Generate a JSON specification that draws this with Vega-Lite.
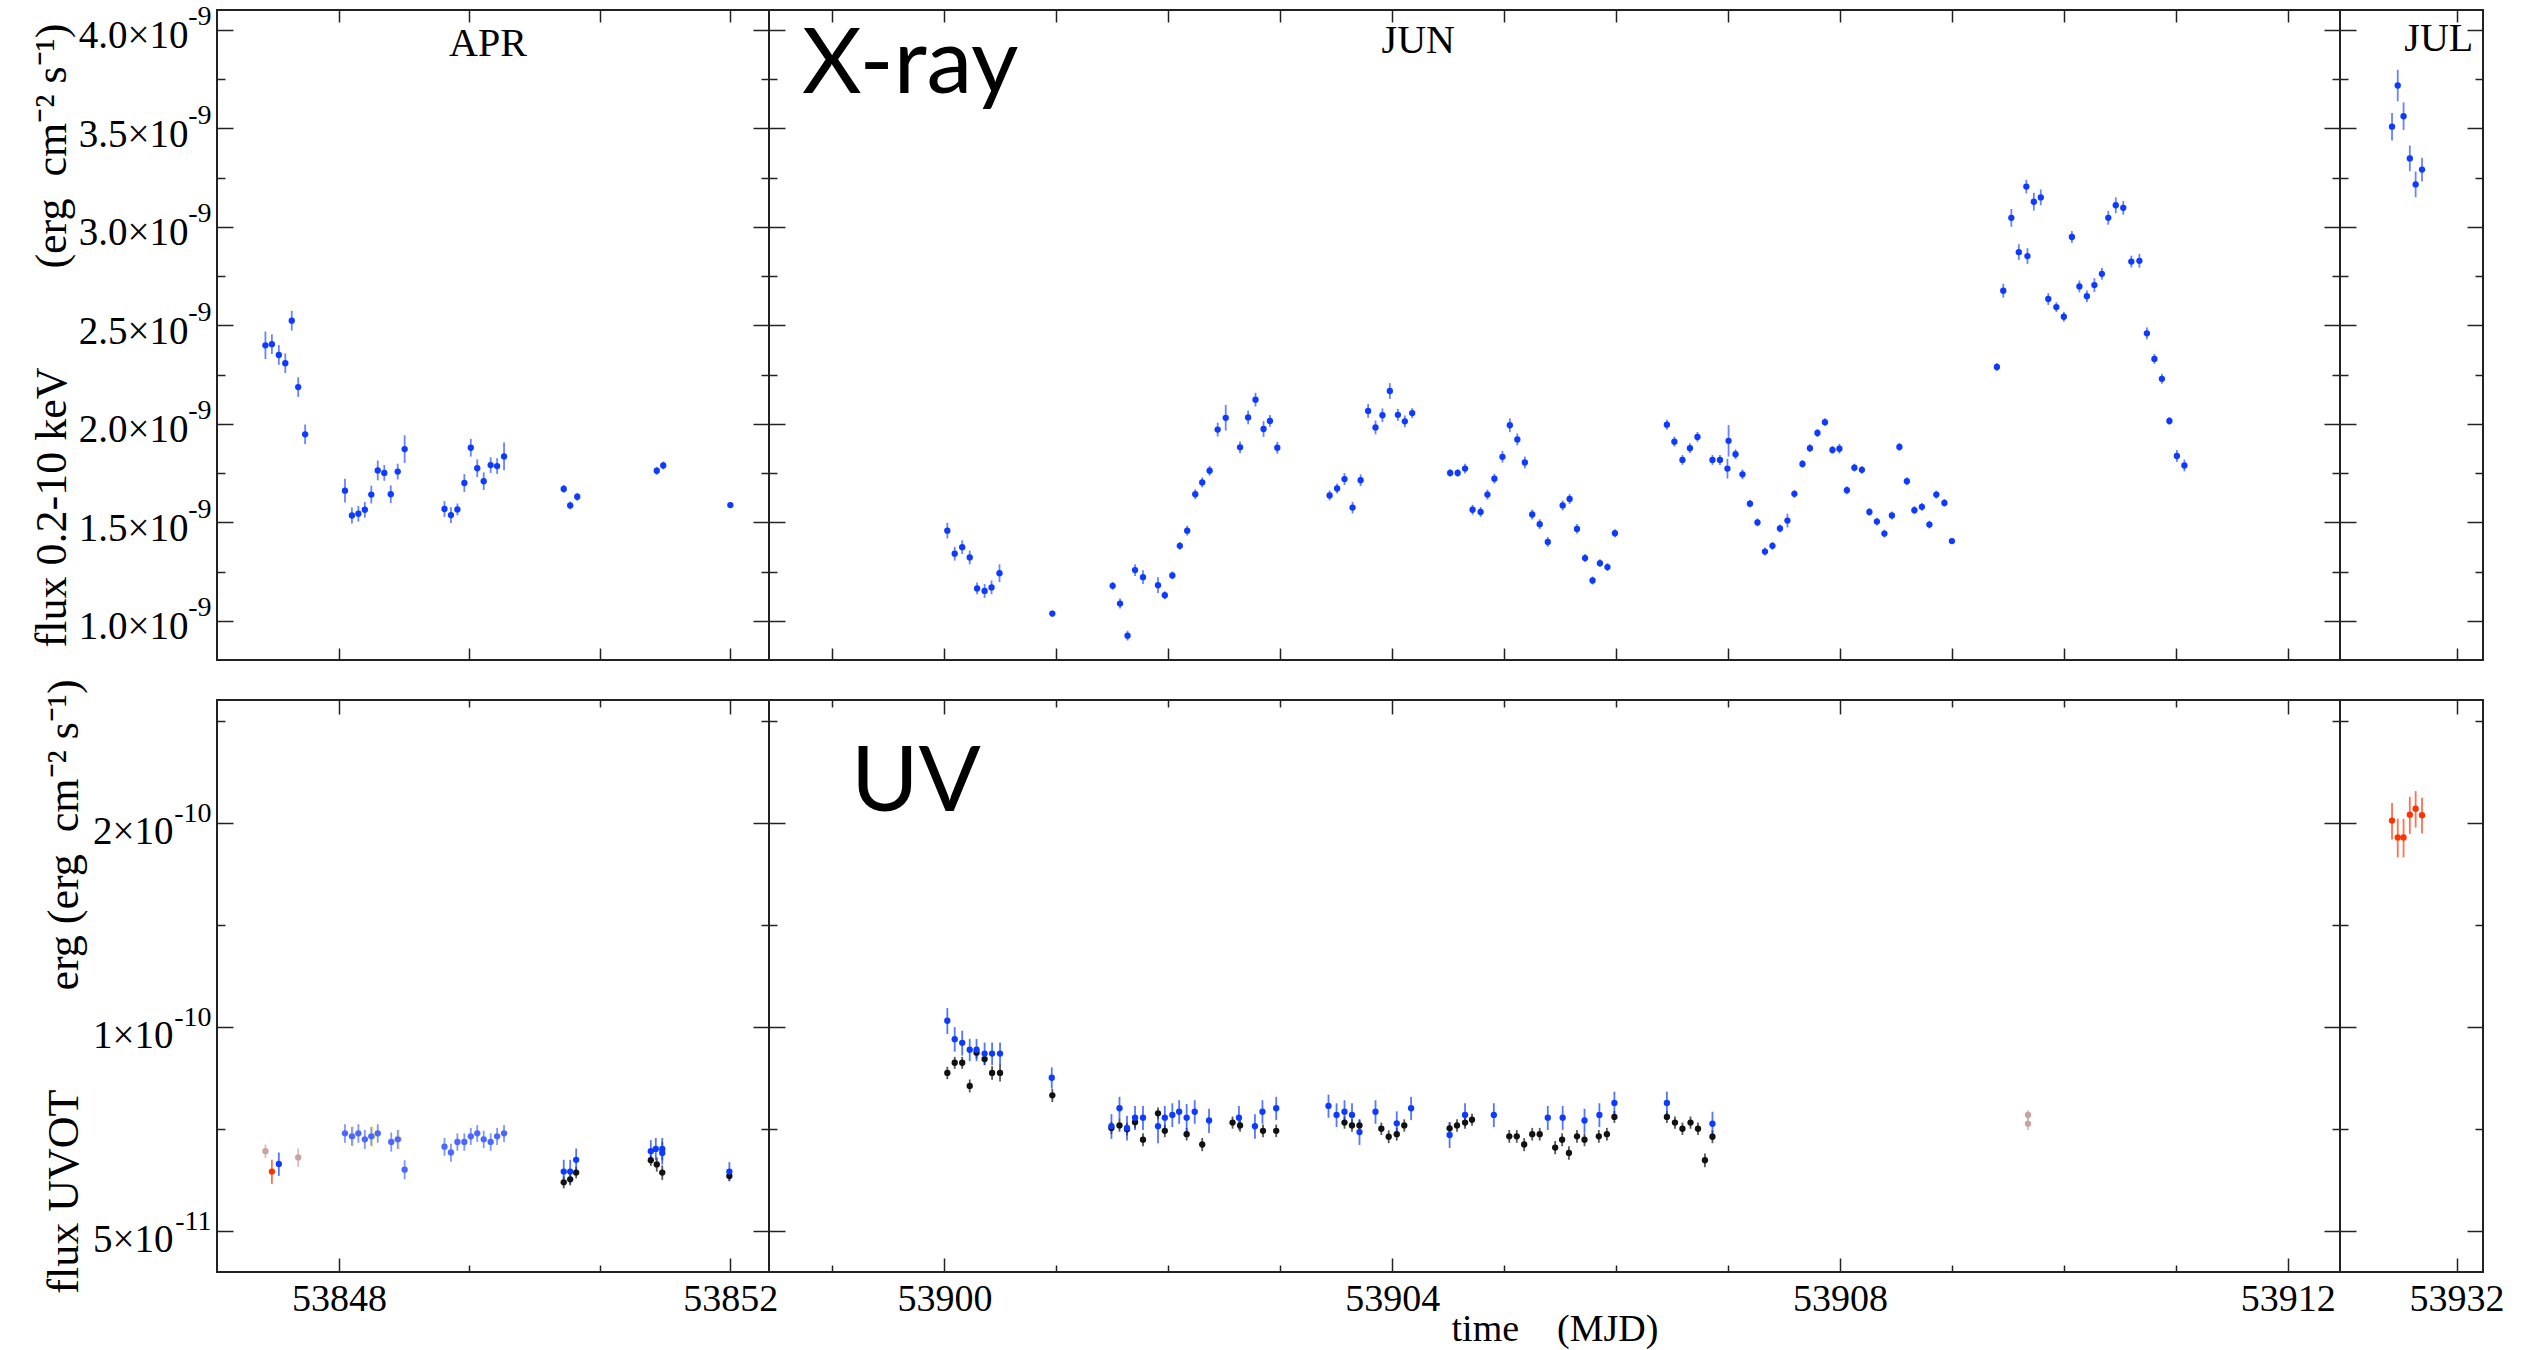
{
"$schema": "https://vega.github.io/schema/vega-lite/v6.json",
"background": "white",
"padding": {"left": 29, "top": 1, "right": 5, "bottom": 0},
"columns": 3,
"align": "each",
"bounds": "flush",
"spacing": {"row": 40, "column": 0},
"config": {
 "view": {"stroke": "#222", "strokeWidth": 2},
 "axis": {"domain": false, "grid": false, "tickColor": "#222", "tickWidth": 1.5, "labelFont": "Liberation Serif", "labelFontSize": 39, "labelColor": "#000", "titleFont": "Liberation Serif", "titleFontSize": 44, "titleFontWeight": "normal", "titleColor": "#000", "labelFlush": false, "labelOverlap": false}
},
"datasets": {
 "xray": [
  {"p":"A","t":53847.248,"f":2.399,"e":0.07},{"p":"A","t":53847.314,"f":2.405,"e":0.05},{"p":"A","t":53847.385,"f":2.350,"e":0.05},{"p":"A","t":53847.451,"f":2.308,"e":0.05},{"p":"A","t":53847.517,"f":2.524,"e":0.05},{"p":"A","t":53847.583,"f":2.187,"e":0.05},{"p":"A","t":53847.654,"f":1.947,"e":0.05},
  {"p":"A","t":53848.061,"f":1.661,"e":0.06},{"p":"A","t":53848.132,"f":1.535,"e":0.04},{"p":"A","t":53848.198,"f":1.544,"e":0.04},{"p":"A","t":53848.264,"f":1.564,"e":0.04},{"p":"A","t":53848.330,"f":1.641,"e":0.045},{"p":"A","t":53848.396,"f":1.764,"e":0.05},{"p":"A","t":53848.463,"f":1.751,"e":0.04},{"p":"A","t":53848.529,"f":1.643,"e":0.045},{"p":"A","t":53848.600,"f":1.758,"e":0.04},{"p":"A","t":53848.671,"f":1.872,"e":0.07},
  {"p":"A","t":53849.078,"f":1.568,"e":0.04},{"p":"A","t":53849.144,"f":1.537,"e":0.04},{"p":"A","t":53849.210,"f":1.566,"e":0.03},{"p":"A","t":53849.281,"f":1.700,"e":0.045},{"p":"A","t":53849.347,"f":1.879,"e":0.045},{"p":"A","t":53849.413,"f":1.775,"e":0.045},{"p":"A","t":53849.479,"f":1.709,"e":0.045},{"p":"A","t":53849.550,"f":1.791,"e":0.04},{"p":"A","t":53849.616,"f":1.786,"e":0.04},{"p":"A","t":53849.687,"f":1.835,"e":0.07},
  {"p":"A","t":53850.297,"f":1.670,"e":0.02},{"p":"A","t":53850.363,"f":1.586,"e":0.02},{"p":"A","t":53850.435,"f":1.630,"e":0.02},{"p":"A","t":53851.248,"f":1.762,"e":0.02},{"p":"A","t":53851.314,"f":1.789,"e":0.02},{"p":"A","t":53852.000,"f":1.588,"e":0.015},
  {"p":"J","t":53900.026,"f":1.458,"e":0.04},{"p":"J","t":53900.092,"f":1.341,"e":0.035},{"p":"J","t":53900.159,"f":1.374,"e":0.035},{"p":"J","t":53900.226,"f":1.322,"e":0.035},{"p":"J","t":53900.292,"f":1.165,"e":0.03},{"p":"J","t":53900.359,"f":1.152,"e":0.035},{"p":"J","t":53900.421,"f":1.170,"e":0.035},{"p":"J","t":53900.492,"f":1.242,"e":0.045},
  {"p":"J","t":53900.964,"f":1.037,"e":0.015},{"p":"J","t":53901.503,"f":1.178,"e":0.02},{"p":"J","t":53901.569,"f":1.088,"e":0.025},{"p":"J","t":53901.636,"f":0.925,"e":0.025},{"p":"J","t":53901.703,"f":1.258,"e":0.03},{"p":"J","t":53901.774,"f":1.222,"e":0.035},{"p":"J","t":53901.908,"f":1.181,"e":0.04},{"p":"J","t":53901.969,"f":1.130,"e":0.02},
  {"p":"J","t":53902.036,"f":1.231,"e":0.02},{"p":"J","t":53902.103,"f":1.381,"e":0.02},{"p":"J","t":53902.169,"f":1.458,"e":0.025},{"p":"J","t":53902.241,"f":1.643,"e":0.025},{"p":"J","t":53902.303,"f":1.703,"e":0.025},{"p":"J","t":53902.369,"f":1.762,"e":0.025},{"p":"J","t":53902.441,"f":1.971,"e":0.035},{"p":"J","t":53902.513,"f":2.031,"e":0.065},
  {"p":"J","t":53902.641,"f":1.881,"e":0.03},{"p":"J","t":53902.713,"f":2.033,"e":0.035},{"p":"J","t":53902.779,"f":2.123,"e":0.035},{"p":"J","t":53902.851,"f":1.974,"e":0.04},{"p":"J","t":53902.908,"f":2.015,"e":0.03},{"p":"J","t":53902.974,"f":1.879,"e":0.03},
  {"p":"J","t":53903.441,"f":1.637,"e":0.025},{"p":"J","t":53903.508,"f":1.672,"e":0.025},{"p":"J","t":53903.574,"f":1.720,"e":0.03},{"p":"J","t":53903.646,"f":1.575,"e":0.03},{"p":"J","t":53903.718,"f":1.714,"e":0.03},{"p":"J","t":53903.785,"f":2.066,"e":0.035},{"p":"J","t":53903.851,"f":1.982,"e":0.035},{"p":"J","t":53903.913,"f":2.044,"e":0.035},{"p":"J","t":53903.979,"f":2.167,"e":0.04},{"p":"J","t":53904.051,"f":2.046,"e":0.03},{"p":"J","t":53904.113,"f":2.013,"e":0.03},{"p":"J","t":53904.179,"f":2.055,"e":0.025},
  {"p":"J","t":53904.518,"f":1.751,"e":0.02},{"p":"J","t":53904.585,"f":1.751,"e":0.02},{"p":"J","t":53904.651,"f":1.773,"e":0.025},{"p":"J","t":53904.718,"f":1.564,"e":0.025},{"p":"J","t":53904.790,"f":1.553,"e":0.025},{"p":"J","t":53904.851,"f":1.641,"e":0.025},{"p":"J","t":53904.913,"f":1.722,"e":0.025},{"p":"J","t":53904.985,"f":1.833,"e":0.03},{"p":"J","t":53905.051,"f":1.993,"e":0.035},{"p":"J","t":53905.118,"f":1.921,"e":0.03},{"p":"J","t":53905.185,"f":1.804,"e":0.03},{"p":"J","t":53905.251,"f":1.540,"e":0.025},{"p":"J","t":53905.318,"f":1.491,"e":0.025},{"p":"J","t":53905.390,"f":1.401,"e":0.025},
  {"p":"J","t":53905.523,"f":1.586,"e":0.025},{"p":"J","t":53905.585,"f":1.619,"e":0.025},{"p":"J","t":53905.651,"f":1.467,"e":0.025},{"p":"J","t":53905.723,"f":1.319,"e":0.02},{"p":"J","t":53905.790,"f":1.205,"e":0.02},{"p":"J","t":53905.856,"f":1.293,"e":0.02},{"p":"J","t":53905.923,"f":1.273,"e":0.02},{"p":"J","t":53905.990,"f":1.445,"e":0.02},
  {"p":"J","t":53906.454,"f":1.996,"e":0.025},{"p":"J","t":53906.521,"f":1.910,"e":0.025},{"p":"J","t":53906.593,"f":1.817,"e":0.025},{"p":"J","t":53906.660,"f":1.877,"e":0.025},{"p":"J","t":53906.727,"f":1.934,"e":0.025},{"p":"J","t":53906.861,"f":1.817,"e":0.025},{"p":"J","t":53906.928,"f":1.817,"e":0.025},{"p":"J","t":53906.995,"f":1.773,"e":0.05},{"p":"J","t":53907.005,"f":1.914,"e":0.08},{"p":"J","t":53907.067,"f":1.846,"e":0.025},{"p":"J","t":53907.129,"f":1.744,"e":0.025},
  {"p":"J","t":53907.196,"f":1.595,"e":0.02},{"p":"J","t":53907.263,"f":1.500,"e":0.02},{"p":"J","t":53907.330,"f":1.352,"e":0.02},{"p":"J","t":53907.397,"f":1.381,"e":0.02},{"p":"J","t":53907.464,"f":1.469,"e":0.02},{"p":"J","t":53907.531,"f":1.509,"e":0.035},{"p":"J","t":53907.593,"f":1.645,"e":0.02},{"p":"J","t":53907.665,"f":1.797,"e":0.02},{"p":"J","t":53907.732,"f":1.877,"e":0.02},{"p":"J","t":53907.799,"f":1.954,"e":0.02},{"p":"J","t":53907.866,"f":2.009,"e":0.02},{"p":"J","t":53907.933,"f":1.868,"e":0.02},{"p":"J","t":53907.995,"f":1.874,"e":0.025},
  {"p":"J","t":53908.062,"f":1.663,"e":0.02},{"p":"J","t":53908.129,"f":1.778,"e":0.02},{"p":"J","t":53908.196,"f":1.767,"e":0.02},{"p":"J","t":53908.263,"f":1.553,"e":0.02},{"p":"J","t":53908.330,"f":1.504,"e":0.02},{"p":"J","t":53908.397,"f":1.443,"e":0.02},{"p":"J","t":53908.464,"f":1.535,"e":0.02},{"p":"J","t":53908.531,"f":1.883,"e":0.02},{"p":"J","t":53908.598,"f":1.709,"e":0.02},{"p":"J","t":53908.665,"f":1.562,"e":0.02},{"p":"J","t":53908.732,"f":1.579,"e":0.02},{"p":"J","t":53908.799,"f":1.489,"e":0.02},{"p":"J","t":53908.861,"f":1.641,"e":0.02},{"p":"J","t":53908.933,"f":1.599,"e":0.02},{"p":"J","t":53909.000,"f":1.405,"e":0.015},
  {"p":"J","t":53909.402,"f":2.289,"e":0.02},{"p":"J","t":53909.459,"f":2.676,"e":0.035},{"p":"J","t":53909.531,"f":3.046,"e":0.045},{"p":"J","t":53909.598,"f":2.872,"e":0.04},{"p":"J","t":53909.665,"f":3.205,"e":0.035},{"p":"J","t":53909.675,"f":2.852,"e":0.04},{"p":"J","t":53909.732,"f":3.128,"e":0.045},{"p":"J","t":53909.794,"f":3.150,"e":0.04},{"p":"J","t":53909.861,"f":2.634,"e":0.03},{"p":"J","t":53909.933,"f":2.593,"e":0.025},{"p":"J","t":53910.000,"f":2.544,"e":0.025},
  {"p":"J","t":53910.072,"f":2.949,"e":0.03},{"p":"J","t":53910.139,"f":2.698,"e":0.03},{"p":"J","t":53910.206,"f":2.648,"e":0.03},{"p":"J","t":53910.273,"f":2.705,"e":0.035},{"p":"J","t":53910.340,"f":2.762,"e":0.03},{"p":"J","t":53910.397,"f":3.046,"e":0.035},{"p":"J","t":53910.464,"f":3.110,"e":0.04},{"p":"J","t":53910.531,"f":3.097,"e":0.035},{"p":"J","t":53910.603,"f":2.824,"e":0.03},{"p":"J","t":53910.675,"f":2.828,"e":0.035},
  {"p":"J","t":53910.742,"f":2.460,"e":0.03},{"p":"J","t":53910.809,"f":2.330,"e":0.025},{"p":"J","t":53910.876,"f":2.229,"e":0.025},{"p":"J","t":53910.943,"f":2.015,"e":0.02},{"p":"J","t":53911.010,"f":1.837,"e":0.03},{"p":"J","t":53911.077,"f":1.789,"e":0.03},
  {"p":"L","t":53931.423,"f":3.509,"e":0.07},{"p":"L","t":53931.474,"f":3.718,"e":0.08},{"p":"L","t":53931.526,"f":3.562,"e":0.07},{"p":"L","t":53931.582,"f":3.348,"e":0.065},{"p":"L","t":53931.634,"f":3.216,"e":0.065},{"p":"L","t":53931.691,"f":3.291,"e":0.06}
 ],
 "uv": [
  {"p":"A","s":"rosy","t":53847.248,"f":6.56,"e":0.15},{"p":"A","s":"rosy","t":53847.583,"f":6.42,"e":0.2},{"p":"J","s":"rosy","t":53909.680,"f":7.42,"e":0.12},{"p":"J","s":"rosy","t":53909.680,"f":7.20,"e":0.15},
  {"p":"A","s":"red","t":53847.314,"f":6.12,"e":0.25},
  {"p":"L","s":"red","t":53931.423,"f":20.18,"e":1.25},{"p":"L","s":"red","t":53931.474,"f":19.06,"e":1.25},{"p":"L","s":"red","t":53931.526,"f":19.06,"e":1.25},{"p":"L","s":"red","t":53931.582,"f":20.59,"e":1.3},{"p":"L","s":"red","t":53931.634,"f":21.01,"e":1.3},{"p":"L","s":"red","t":53931.691,"f":20.56,"e":1.25},
  {"p":"A","s":"yellow","t":53848.145,"f":6.90,"e":0.24},{"p":"A","s":"yellow","t":53848.343,"f":6.90,"e":0.24},{"p":"A","s":"yellow","t":53848.613,"f":6.83,"e":0.24},
  {"p":"A","s":"lb","t":53848.061,"f":6.97,"e":0.22},{"p":"A","s":"lb","t":53848.132,"f":6.90,"e":0.22},{"p":"A","s":"lb","t":53848.198,"f":6.97,"e":0.22},{"p":"A","s":"lb","t":53848.264,"f":6.83,"e":0.22},{"p":"A","s":"lb","t":53848.330,"f":6.90,"e":0.22},{"p":"A","s":"lb","t":53848.396,"f":6.97,"e":0.22},{"p":"A","s":"lb","t":53848.534,"f":6.77,"e":0.22},{"p":"A","s":"lb","t":53848.600,"f":6.83,"e":0.22},{"p":"A","s":"lb","t":53848.671,"f":6.16,"e":0.2},
  {"p":"A","s":"lb","t":53849.078,"f":6.66,"e":0.2},{"p":"A","s":"lb","t":53849.144,"f":6.53,"e":0.2},{"p":"A","s":"lb","t":53849.210,"f":6.77,"e":0.2},{"p":"A","s":"lb","t":53849.281,"f":6.77,"e":0.2},{"p":"A","s":"lb","t":53849.347,"f":6.90,"e":0.2},{"p":"A","s":"lb","t":53849.413,"f":6.97,"e":0.2},{"p":"A","s":"lb","t":53849.479,"f":6.83,"e":0.2},{"p":"A","s":"lb","t":53849.550,"f":6.77,"e":0.2},{"p":"A","s":"lb","t":53849.616,"f":6.90,"e":0.2},{"p":"A","s":"lb","t":53849.687,"f":6.97,"e":0.2},
  {"p":"A","s":"black","t":53850.297,"f":5.90,"e":0.12},{"p":"A","s":"black","t":53850.363,"f":5.96,"e":0.12},{"p":"A","s":"black","t":53850.424,"f":6.10,"e":0.12},{"p":"A","s":"black","t":53851.187,"f":6.36,"e":0.12},{"p":"A","s":"black","t":53851.248,"f":6.27,"e":0.15},{"p":"A","s":"black","t":53851.304,"f":6.10,"e":0.15},{"p":"A","s":"black","t":53851.990,"f":6.03,"e":0.1},
  {"p":"J","s":"black","t":53900.026,"f":8.56,"e":0.18},{"p":"J","s":"black","t":53900.092,"f":8.86,"e":0.18},{"p":"J","s":"black","t":53900.159,"f":8.86,"e":0.18},{"p":"J","s":"black","t":53900.226,"f":8.19,"e":0.18},{"p":"J","s":"black","t":53900.287,"f":9.17,"e":0.18},{"p":"J","s":"black","t":53900.359,"f":8.97,"e":0.18},{"p":"J","s":"black","t":53900.426,"f":8.56,"e":0.2},{"p":"J","s":"black","t":53900.497,"f":8.56,"e":0.25},{"p":"J","s":"black","t":53900.964,"f":7.93,"e":0.18},
  {"p":"J","s":"black","t":53901.492,"f":7.10,"e":0.15},{"p":"J","s":"black","t":53901.564,"f":7.16,"e":0.15},{"p":"J","s":"black","t":53901.631,"f":7.07,"e":0.15},{"p":"J","s":"black","t":53901.703,"f":7.24,"e":0.15},{"p":"J","s":"black","t":53901.774,"f":6.82,"e":0.15},{"p":"J","s":"black","t":53901.908,"f":7.46,"e":0.15},{"p":"J","s":"black","t":53901.969,"f":7.03,"e":0.15},{"p":"J","s":"black","t":53902.164,"f":6.95,"e":0.15},{"p":"J","s":"black","t":53902.303,"f":6.71,"e":0.15},
  {"p":"J","s":"black","t":53902.574,"f":7.23,"e":0.15},{"p":"J","s":"black","t":53902.641,"f":7.16,"e":0.15},{"p":"J","s":"black","t":53902.846,"f":7.03,"e":0.15},{"p":"J","s":"black","t":53902.964,"f":7.03,"e":0.15},
  {"p":"J","s":"black","t":53903.574,"f":7.23,"e":0.15},{"p":"J","s":"black","t":53903.641,"f":7.16,"e":0.15},{"p":"J","s":"black","t":53903.708,"f":7.16,"e":0.15},{"p":"J","s":"black","t":53903.903,"f":7.08,"e":0.15},{"p":"J","s":"black","t":53903.969,"f":6.89,"e":0.15},{"p":"J","s":"black","t":53904.041,"f":6.95,"e":0.15},{"p":"J","s":"black","t":53904.108,"f":7.16,"e":0.15},
  {"p":"J","s":"black","t":53904.513,"f":7.09,"e":0.15},{"p":"J","s":"black","t":53904.579,"f":7.16,"e":0.15},{"p":"J","s":"black","t":53904.651,"f":7.23,"e":0.15},{"p":"J","s":"black","t":53904.713,"f":7.30,"e":0.15},
  {"p":"J","s":"black","t":53905.046,"f":6.90,"e":0.15},{"p":"J","s":"black","t":53905.113,"f":6.90,"e":0.15},{"p":"J","s":"black","t":53905.179,"f":6.71,"e":0.15},{"p":"J","s":"black","t":53905.251,"f":6.95,"e":0.15},{"p":"J","s":"black","t":53905.318,"f":6.95,"e":0.15},{"p":"J","s":"black","t":53905.456,"f":6.64,"e":0.15},{"p":"J","s":"black","t":53905.518,"f":6.82,"e":0.15},{"p":"J","s":"black","t":53905.579,"f":6.52,"e":0.15},{"p":"J","s":"black","t":53905.651,"f":6.90,"e":0.15},{"p":"J","s":"black","t":53905.718,"f":6.82,"e":0.15},{"p":"J","s":"black","t":53905.846,"f":6.90,"e":0.15},{"p":"J","s":"black","t":53905.918,"f":6.95,"e":0.15},{"p":"J","s":"black","t":53905.985,"f":7.37,"e":0.15},
  {"p":"J","s":"black","t":53906.454,"f":7.37,"e":0.15},{"p":"J","s":"black","t":53906.526,"f":7.23,"e":0.15},{"p":"J","s":"black","t":53906.593,"f":7.08,"e":0.15},{"p":"J","s":"black","t":53906.665,"f":7.23,"e":0.15},{"p":"J","s":"black","t":53906.732,"f":7.08,"e":0.15},{"p":"J","s":"black","t":53906.794,"f":6.36,"e":0.15},{"p":"J","s":"black","t":53906.861,"f":6.89,"e":0.15},
  {"p":"A","s":"blue","t":53847.385,"f":6.28,"e":0.25},{"p":"A","s":"blue","t":53850.297,"f":6.12,"e":0.25},{"p":"A","s":"blue","t":53850.363,"f":6.12,"e":0.25},{"p":"A","s":"blue","t":53850.424,"f":6.37,"e":0.25},{"p":"A","s":"blue","t":53851.187,"f":6.56,"e":0.25},{"p":"A","s":"blue","t":53851.238,"f":6.61,"e":0.25},{"p":"A","s":"blue","t":53851.304,"f":6.61,"e":0.25},{"p":"A","s":"blue","t":53851.304,"f":6.52,"e":0.25},{"p":"A","s":"blue","t":53851.990,"f":6.12,"e":0.2},
  {"p":"J","s":"blue","t":53900.026,"f":10.22,"e":0.45},{"p":"J","s":"blue","t":53900.092,"f":9.60,"e":0.4},{"p":"J","s":"blue","t":53900.159,"f":9.48,"e":0.4},{"p":"J","s":"blue","t":53900.226,"f":9.26,"e":0.35},{"p":"J","s":"blue","t":53900.287,"f":9.26,"e":0.35},{"p":"J","s":"blue","t":53900.359,"f":9.14,"e":0.35},{"p":"J","s":"blue","t":53900.426,"f":9.14,"e":0.35},{"p":"J","s":"blue","t":53900.497,"f":9.14,"e":0.35},{"p":"J","s":"blue","t":53900.959,"f":8.42,"e":0.3},
  {"p":"J","s":"blue","t":53901.492,"f":7.14,"e":0.3},{"p":"J","s":"blue","t":53901.564,"f":7.59,"e":0.3},{"p":"J","s":"blue","t":53901.631,"f":7.10,"e":0.3},{"p":"J","s":"blue","t":53901.703,"f":7.35,"e":0.3},{"p":"J","s":"blue","t":53901.774,"f":7.35,"e":0.3},{"p":"J","s":"blue","t":53901.908,"f":7.14,"e":0.4},{"p":"J","s":"blue","t":53901.969,"f":7.35,"e":0.3},{"p":"J","s":"blue","t":53902.036,"f":7.42,"e":0.3},{"p":"J","s":"blue","t":53902.097,"f":7.50,"e":0.3},{"p":"J","s":"blue","t":53902.164,"f":7.35,"e":0.35},{"p":"J","s":"blue","t":53902.236,"f":7.50,"e":0.3},{"p":"J","s":"blue","t":53902.364,"f":7.28,"e":0.3},
  {"p":"J","s":"blue","t":53902.631,"f":7.35,"e":0.3},{"p":"J","s":"blue","t":53902.774,"f":7.14,"e":0.3},{"p":"J","s":"blue","t":53902.841,"f":7.50,"e":0.3},{"p":"J","s":"blue","t":53902.964,"f":7.59,"e":0.3},
  {"p":"J","s":"blue","t":53903.431,"f":7.65,"e":0.3},{"p":"J","s":"blue","t":53903.503,"f":7.42,"e":0.3},{"p":"J","s":"blue","t":53903.574,"f":7.50,"e":0.3},{"p":"J","s":"blue","t":53903.641,"f":7.42,"e":0.3},{"p":"J","s":"blue","t":53903.708,"f":7.00,"e":0.3},{"p":"J","s":"blue","t":53903.851,"f":7.50,"e":0.3},{"p":"J","s":"blue","t":53904.041,"f":7.21,"e":0.3},{"p":"J","s":"blue","t":53904.169,"f":7.59,"e":0.3},
  {"p":"J","s":"blue","t":53904.513,"f":6.93,"e":0.3},{"p":"J","s":"blue","t":53904.651,"f":7.42,"e":0.3},{"p":"J","s":"blue","t":53904.908,"f":7.42,"e":0.3},{"p":"J","s":"blue","t":53905.390,"f":7.35,"e":0.3},{"p":"J","s":"blue","t":53905.523,"f":7.35,"e":0.3},{"p":"J","s":"blue","t":53905.718,"f":7.28,"e":0.3},{"p":"J","s":"blue","t":53905.851,"f":7.42,"e":0.3},{"p":"J","s":"blue","t":53905.985,"f":7.73,"e":0.3},
  {"p":"J","s":"blue","t":53906.454,"f":7.73,"e":0.3},{"p":"J","s":"blue","t":53906.861,"f":7.20,"e":0.3}
 ]
},
"concat": [
  {"width": 552, "height": 650, "resolve": {"axis": {"x": "independent", "y": "independent"}},
   "layer": [
    {"data": {"name": "xray"}, "transform": [{"filter": "datum.p=='A'"}],
     "mark": {"type": "errorbar", "ticks": false, "thickness": 1.8, "color": "#6a82ff"},
     "encoding": {
      "x": {"field": "t", "type": "quantitative", "scale": {"domain": [53846.753, 53852.395], "nice": false, "zero": false}, "axis": {"orient": "bottom", "values": [53848, 53849.3333, 53850.6667, 53852], "labels": false, "tickSize": -12, "title": null}},
      "y": {"field": "f", "type": "quantitative", "scale": {"domain": [0.8014, 4.1013], "nice": false, "zero": false}, "axis": {"orient": "left", "values": [1, 1.25, 1.5, 1.75, 2, 2.25, 2.5, 2.75, 3, 3.25, 3.5, 3.75, 4], "labelExpr": "datum.value*2==round(datum.value*2) ? format(datum.value,'.1f')+'×10' : ''", "tickSize": {"condition": {"test": "datum.value*2==round(datum.value*2)", "value": -16}, "value": -8}, "labelPadding": 45, "labelOffset": 6, "title": "flux 0.2-10 keV\u00a0\u00a0\u00a0\u00a0\u00a0\u00a0\u00a0\u00a0\u00a0(erg\u00a0\u00a0cm⁻²\u00a0s⁻¹)", "titlePadding": 4}},
      "yError": {"field": "e"}}},
    {"data": {"name": "xray"}, "transform": [{"filter": "datum.p=='A'"}],
     "mark": {"type": "circle", "size": 40, "color": "#0d3bff", "opacity": 1},
     "encoding": {
      "x": {"field": "t", "type": "quantitative", "axis": {"orient": "top", "values": [53848, 53849.3333, 53850.6667, 53852], "labels": false, "tickSize": -12, "title": null}},
      "y": {"field": "f", "type": "quantitative", "axis": {"orient": "right", "values": [1, 1.25, 1.5, 1.75, 2, 2.25, 2.5, 2.75, 3, 3.25, 3.5, 3.75, 4], "labels": false, "tickSize": {"condition": {"test": "datum.value*2==round(datum.value*2)", "value": -16}, "value": -8}, "title": null}}}},
    {"data": {"values": [{"t": 53849.523, "f": 3.931, "label": "APR"}]},
     "mark": {"type": "text", "font": "Liberation Serif", "fontSize": 40, "align": "center", "baseline": "middle", "color": "#000"},
     "encoding": {"x": {"field": "t", "type": "quantitative", "axis": null}, "y": {"field": "f", "type": "quantitative", "axis": {"orient": "left", "values": [1, 1.5, 2, 2.5, 3, 3.5, 4], "ticks": false, "labelExpr": "'-9'", "labelFontSize": 28, "labelPadding": 6, "labelOffset": -13, "title": null}}, "text": {"field": "label"}}}
   ]},
  {"width": 1571, "height": 650, "resolve": {"axis": {"x": "independent", "y": "independent"}},
   "layer": [
    {"data": {"name": "xray"}, "transform": [{"filter": "datum.p=='J'"}],
     "mark": {"type": "errorbar", "ticks": false, "thickness": 1.8, "color": "#6a82ff"},
     "encoding": {
      "x": {"field": "t", "type": "quantitative", "scale": {"domain": [53898.433, 53912.467], "nice": false, "zero": false}, "axis": {"orient": "bottom", "values": [53899, 53900, 53901, 53902, 53903, 53904, 53905, 53906, 53907, 53908, 53909, 53910, 53911, 53912], "labels": false, "tickSize": -12, "title": null}},
      "y": {"field": "f", "type": "quantitative", "scale": {"domain": [0.8014, 4.1013], "nice": false, "zero": false}, "axis": {"orient": "left", "values": [1, 1.25, 1.5, 1.75, 2, 2.25, 2.5, 2.75, 3, 3.25, 3.5, 3.75, 4], "labels": false, "tickSize": {"condition": {"test": "datum.value*2==round(datum.value*2)", "value": -16}, "value": -8}, "title": null}},
      "yError": {"field": "e"}}},
    {"data": {"name": "xray"}, "transform": [{"filter": "datum.p=='J'"}],
     "mark": {"type": "circle", "size": 40, "color": "#0d3bff", "opacity": 1},
     "encoding": {
      "x": {"field": "t", "type": "quantitative", "axis": {"orient": "top", "values": [53899, 53900, 53901, 53902, 53903, 53904, 53905, 53906, 53907, 53908, 53909, 53910, 53911, 53912], "labels": false, "tickSize": -12, "title": null}},
      "y": {"field": "f", "type": "quantitative", "axis": {"orient": "right", "values": [1, 1.25, 1.5, 1.75, 2, 2.25, 2.5, 2.75, 3, 3.25, 3.5, 3.75, 4], "labels": false, "tickSize": {"condition": {"test": "datum.value*2==round(datum.value*2)", "value": -16}, "value": -8}, "title": null}}}},
    {"data": {"values": [{"t": 53904.233, "f": 3.942, "label": "JUN"}]},
     "mark": {"type": "text", "font": "Liberation Serif", "fontSize": 40, "align": "center", "baseline": "middle", "color": "#000"},
     "encoding": {"x": {"field": "t", "type": "quantitative", "axis": null}, "y": {"field": "f", "type": "quantitative", "axis": null}, "text": {"field": "label"}}},
    {"data": {"values": [{"t": 53898.728, "f": 3.682, "label": "X-ray"}]},
     "mark": {"type": "text", "font": "Lato", "fontSize": 92, "align": "left", "baseline": "alphabetic", "color": "#000"},
     "encoding": {"x": {"field": "t", "type": "quantitative", "axis": null}, "y": {"field": "f", "type": "quantitative", "axis": null}, "text": {"field": "label"}}}
   ]},
  {"width": 143, "height": 650, "resolve": {"axis": {"x": "independent", "y": "independent"}},
   "layer": [
    {"data": {"name": "xray"}, "transform": [{"filter": "datum.p=='L'"}],
     "mark": {"type": "errorbar", "ticks": false, "thickness": 1.8, "color": "#6a82ff"},
     "encoding": {
      "x": {"field": "t", "type": "quantitative", "scale": {"domain": [53930.958, 53932.236], "nice": false, "zero": false}, "axis": {"orient": "bottom", "values": [53932], "labels": false, "tickSize": -12, "title": null}},
      "y": {"field": "f", "type": "quantitative", "scale": {"domain": [0.8014, 4.1013], "nice": false, "zero": false}, "axis": {"orient": "left", "values": [1, 1.25, 1.5, 1.75, 2, 2.25, 2.5, 2.75, 3, 3.25, 3.5, 3.75, 4], "labels": false, "tickSize": {"condition": {"test": "datum.value*2==round(datum.value*2)", "value": -16}, "value": -8}, "title": null}},
      "yError": {"field": "e"}}},
    {"data": {"name": "xray"}, "transform": [{"filter": "datum.p=='L'"}],
     "mark": {"type": "circle", "size": 40, "color": "#0d3bff", "opacity": 1},
     "encoding": {
      "x": {"field": "t", "type": "quantitative", "axis": {"orient": "top", "values": [53932], "labels": false, "tickSize": -12, "title": null}},
      "y": {"field": "f", "type": "quantitative", "axis": {"orient": "right", "values": [1, 1.25, 1.5, 1.75, 2, 2.25, 2.5, 2.75, 3, 3.25, 3.5, 3.75, 4], "labels": false, "tickSize": {"condition": {"test": "datum.value*2==round(datum.value*2)", "value": -16}, "value": -8}, "title": null}}}},
    {"data": {"values": [{"t": 53931.841, "f": 3.952, "label": "JUL"}]},
     "mark": {"type": "text", "font": "Liberation Serif", "fontSize": 40, "align": "center", "baseline": "middle", "color": "#000"},
     "encoding": {"x": {"field": "t", "type": "quantitative", "axis": null}, "y": {"field": "f", "type": "quantitative", "axis": null}, "text": {"field": "label"}}}
   ]},
  {"width": 552, "height": 572, "resolve": {"axis": {"x": "independent", "y": "independent"}},
   "layer": [
    {"data": {"name": "uv"}, "transform": [{"filter": "datum.p=='A'"}],
     "mark": {"type": "errorbar", "ticks": false, "thickness": 1.8, "rule": {"opacity": 0.7}},
     "encoding": {
      "x": {"field": "t", "type": "quantitative", "scale": {"domain": [53846.753, 53852.395], "nice": false, "zero": false}, "axis": {"orient": "bottom", "values": [53848, 53849.3333, 53850.6667, 53852], "labelExpr": "datum.value==53848||datum.value==53852 ? format(datum.value,'d') : ''", "tickSize": {"condition": {"test": "datum.value==53848||datum.value==53852", "value": -14}, "value": -7}, "labelPadding": 22, "labelFontSize": 38, "title": null}},
      "y": {"field": "f", "type": "quantitative", "scale": {"type": "log", "domain": [4.35, 30.41], "nice": false}, "axis": {"orient": "left", "values": [5, 7.071, 10, 14.142, 20, 28.284], "labelExpr": "datum.value==5 ? '5×10' : datum.value==10 ? '1×10' : datum.value==20 ? '2×10' : ''", "tickSize": {"condition": {"test": "datum.value==5||datum.value==10||datum.value==20", "value": -16}, "value": -8}, "labelPadding": 60, "labelOffset": 8, "title": "flux UVOT\u00a0\u00a0\u00a0\u00a0\u00a0\u00a0\u00a0\u00a0\u00a0erg (erg\u00a0\u00a0cm⁻²\u00a0s⁻¹)", "titlePadding": 6}},
      "yError": {"field": "e"},
      "color": {"field": "s", "type": "nominal", "scale": {"domain": ["rosy", "red", "yellow", "lb", "black", "blue"], "range": ["#c9a3a0", "#ff3300", "#f2e44a", "#4a68ff", "#111111", "#0d3bff"]}, "legend": null}}},
    {"data": {"name": "uv"}, "transform": [{"filter": "datum.p=='A'"}],
     "mark": {"type": "circle", "size": 40, "opacity": 1},
     "encoding": {
      "x": {"field": "t", "type": "quantitative", "axis": {"orient": "top", "values": [53848, 53849.3333, 53850.6667, 53852], "labels": false, "tickSize": {"condition": {"test": "datum.value==53848||datum.value==53852", "value": -14}, "value": -7}, "title": null}},
      "y": {"field": "f", "type": "quantitative", "axis": {"orient": "right", "values": [5, 7.071, 10, 14.142, 20, 28.284], "labels": false, "tickSize": {"condition": {"test": "datum.value==5||datum.value==10||datum.value==20", "value": -16}, "value": -8}, "title": null}},
      "color": {"field": "s", "type": "nominal", "scale": {"domain": ["rosy", "red", "yellow", "lb", "black", "blue"], "range": ["#c9a3a0", "#ff3300", "#f2e44a", "#4a68ff", "#111111", "#0d3bff"]}, "legend": null}}},
    {"data": {"name": "uv"}, "transform": [{"filter": "datum.p=='A'"}],
     "mark": {"type": "circle", "size": 40, "opacity": 0},
     "encoding": {
      "x": {"field": "t", "type": "quantitative", "axis": null},
      "y": {"field": "f", "type": "quantitative", "axis": {"orient": "left", "values": [5, 10, 20], "ticks": false, "labelExpr": "datum.value==5 ? '-11' : '-10'", "labelFontSize": 28, "labelPadding": 6, "labelOffset": -10, "title": null}}}}
   ]},
  {"width": 1571, "height": 572, "resolve": {"axis": {"x": "independent", "y": "independent"}},
   "layer": [
    {"data": {"name": "uv"}, "transform": [{"filter": "datum.p=='J'"}],
     "mark": {"type": "errorbar", "ticks": false, "thickness": 1.8, "rule": {"opacity": 0.7}},
     "encoding": {
      "x": {"field": "t", "type": "quantitative", "scale": {"domain": [53898.433, 53912.467], "nice": false, "zero": false}, "axis": {"orient": "bottom", "values": [53899, 53900, 53901, 53902, 53903, 53904, 53905, 53906, 53907, 53908, 53909, 53910, 53911, 53912], "labelExpr": "datum.value%4==0 ? format(datum.value,'d') : ''", "tickSize": {"condition": {"test": "datum.value%4==0", "value": -14}, "value": -7}, "labelPadding": 22, "labelFontSize": 38, "title": "time\u00a0\u00a0\u00a0\u00a0(MJD)", "titleFontSize": 38, "titlePadding": -15}},
      "y": {"field": "f", "type": "quantitative", "scale": {"type": "log", "domain": [4.35, 30.41], "nice": false}, "axis": {"orient": "left", "values": [5, 7.071, 10, 14.142, 20, 28.284], "labels": false, "tickSize": {"condition": {"test": "datum.value==5||datum.value==10||datum.value==20", "value": -16}, "value": -8}, "title": null}},
      "yError": {"field": "e"},
      "color": {"field": "s", "type": "nominal", "scale": {"domain": ["rosy", "red", "yellow", "lb", "black", "blue"], "range": ["#c9a3a0", "#ff3300", "#f2e44a", "#4a68ff", "#111111", "#0d3bff"]}, "legend": null}}},
    {"data": {"name": "uv"}, "transform": [{"filter": "datum.p=='J'"}],
     "mark": {"type": "circle", "size": 40, "opacity": 1},
     "encoding": {
      "x": {"field": "t", "type": "quantitative", "axis": {"orient": "top", "values": [53899, 53900, 53901, 53902, 53903, 53904, 53905, 53906, 53907, 53908, 53909, 53910, 53911, 53912], "labels": false, "tickSize": {"condition": {"test": "datum.value%4==0", "value": -14}, "value": -7}, "title": null}},
      "y": {"field": "f", "type": "quantitative", "axis": {"orient": "right", "values": [5, 7.071, 10, 14.142, 20, 28.284], "labels": false, "tickSize": {"condition": {"test": "datum.value==5||datum.value==10||datum.value==20", "value": -16}, "value": -8}, "title": null}},
      "color": {"field": "s", "type": "nominal", "scale": {"domain": ["rosy", "red", "yellow", "lb", "black", "blue"], "range": ["#c9a3a0", "#ff3300", "#f2e44a", "#4a68ff", "#111111", "#0d3bff"]}, "legend": null}}},
    {"data": {"values": [{"t": 53899.165, "f": 20.85, "label": "UV"}]},
     "mark": {"type": "text", "font": "Lato", "fontSize": 92, "align": "left", "baseline": "alphabetic", "color": "#000"},
     "encoding": {"x": {"field": "t", "type": "quantitative", "axis": null}, "y": {"field": "f", "type": "quantitative", "axis": null}, "text": {"field": "label"}}}
   ]},
  {"width": 143, "height": 572, "resolve": {"axis": {"x": "independent", "y": "independent"}},
   "layer": [
    {"data": {"name": "uv"}, "transform": [{"filter": "datum.p=='L'"}],
     "mark": {"type": "errorbar", "ticks": false, "thickness": 1.8, "rule": {"opacity": 0.7}},
     "encoding": {
      "x": {"field": "t", "type": "quantitative", "scale": {"domain": [53930.958, 53932.236], "nice": false, "zero": false}, "axis": {"orient": "bottom", "values": [53932], "labelExpr": "format(datum.value,'d')", "tickSize": -14, "labelPadding": 22, "labelFontSize": 38, "title": null}},
      "y": {"field": "f", "type": "quantitative", "scale": {"type": "log", "domain": [4.35, 30.41], "nice": false}, "axis": {"orient": "left", "values": [5, 7.071, 10, 14.142, 20, 28.284], "labels": false, "tickSize": {"condition": {"test": "datum.value==5||datum.value==10||datum.value==20", "value": -16}, "value": -8}, "title": null}},
      "yError": {"field": "e"},
      "color": {"field": "s", "type": "nominal", "scale": {"domain": ["rosy", "red", "yellow", "lb", "black", "blue"], "range": ["#c9a3a0", "#ff3300", "#f2e44a", "#4a68ff", "#111111", "#0d3bff"]}, "legend": null}}},
    {"data": {"name": "uv"}, "transform": [{"filter": "datum.p=='L'"}],
     "mark": {"type": "circle", "size": 40, "opacity": 1},
     "encoding": {
      "x": {"field": "t", "type": "quantitative", "axis": {"orient": "top", "values": [53932], "labels": false, "tickSize": -14, "title": null}},
      "y": {"field": "f", "type": "quantitative", "axis": {"orient": "right", "values": [5, 7.071, 10, 14.142, 20, 28.284], "labels": false, "tickSize": {"condition": {"test": "datum.value==5||datum.value==10||datum.value==20", "value": -16}, "value": -8}, "title": null}},
      "color": {"field": "s", "type": "nominal", "scale": {"domain": ["rosy", "red", "yellow", "lb", "black", "blue"], "range": ["#c9a3a0", "#ff3300", "#f2e44a", "#4a68ff", "#111111", "#0d3bff"]}, "legend": null}}}
   ]}
]
}
